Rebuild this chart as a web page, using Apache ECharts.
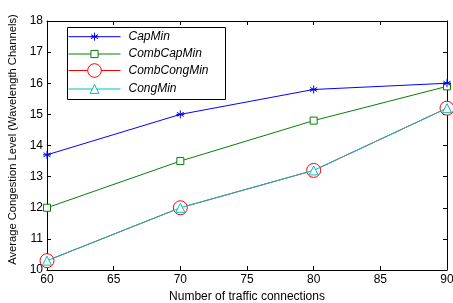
<!DOCTYPE html>
<html>
<head>
<meta charset="utf-8">
<script src="https://cdn.jsdelivr.net/npm/echarts@6/dist/echarts.min.js"></script>
<style>
  html, body { margin: 0; padding: 0; background: #fff; }
  #chart { width: 453px; height: 303px; }
</style>
</head>
<body>
<div id="chart"></div>
<script>
  // data
  const connections = [60, 70, 80, 90];
  const capMin = [13.7, 15.0, 15.8, 16.0];
  const combCapMin = [12.0, 13.5, 14.8, 15.9];
  const combCongMin = [10.3, 12.0, 13.2, 15.2];
  const congMin = [10.3, 12.0, 13.2, 15.2];

  const pairs = (vals) => connections.map((c, i) => [c, vals[i]]);

  const FONT = 'Liberation Sans, Arial, sans-serif';
  const asterisk = 'path://M0,-10L0,10M-8.66,-5L8.66,5M-8.66,5L8.66,-5M-10,0L10,0';

  const mkSeries = (name, vals, color, symbol, size, z) => ({
    name,
    type: 'line',
    data: pairs(vals),
    symbol,
    symbolSize: size,
    z,
    lineStyle: { color, width: 1 },
    itemStyle: { color: symbol.startsWith('path') ? color : '#fff', borderColor: color, borderWidth: 1 },
    emphasis: { disabled: true },
  });

  // one legend per entry so each marker keeps its own size
  const mkLegend = (name, itemHeight, top) => ({
    orient: 'vertical',
    left: 68,
    top,
    z: 6,
    padding: 0,
    itemWidth: 52,
    itemHeight,
    selectedMode: false,
    lineStyle: { width: 1 },
    itemStyle: { borderWidth: 1 },
    textStyle: { fontFamily: FONT, fontSize: 12, lineHeight: 14, fontStyle: 'italic', color: '#000', padding: [0, 0, 0, 3] },
    data: [name],
  });

  const chart = echarts.init(document.getElementById('chart'));

  const tickCommon = {
    axisLine: { show: true, lineStyle: { color: '#000', width: 1 } },
    axisTick: { show: true, inside: true, length: 4, lineStyle: { color: '#000' } },
    splitLine: { show: false },
  };

  chart.setOption({
    animation: false,
    grid: { left: 47, right: 6, top: 21, bottom: 33, containLabel: false, outerBoundsMode: 'none' },
    graphic: [{
      type: 'rect',
      z: 5,
      shape: { x: 67.5, y: 27.5, width: 158, height: 72 },
      style: { fill: '#fff', stroke: '#000', lineWidth: 1 },
    }],
    legend: [
      mkLegend('CapMin', 10, 29.7),
      mkLegend('CombCapMin', 9, 47),
      mkLegend('CombCongMin', 17, 63.2),
      mkLegend('CongMin', 11, 82),
    ],
    xAxis: [
      {
        type: 'value', min: 60, max: 90, interval: 5,
        ...tickCommon,
        axisLabel: { color: '#000', fontFamily: FONT, fontSize: 12, margin: 4 },
        name: 'Number of traffic connections',
        nameLocation: 'middle',
        nameGap: 20,
        nameTextStyle: { color: '#000', fontFamily: FONT, fontSize: 12 },
      },
      {
        type: 'value', min: 60, max: 90, interval: 5, position: 'top',
        ...tickCommon,
        axisLabel: { show: false },
      },
    ],
    yAxis: [
      {
        type: 'value', min: 10, max: 18, interval: 1,
        ...tickCommon,
        axisLabel: { color: '#000', fontFamily: FONT, fontSize: 12, margin: 4 },
        name: 'Average Congestion Level (Wavelength Channels)',
        nameLocation: 'middle',
        nameGap: 22,
        nameTextStyle: { color: '#000', fontFamily: FONT, fontSize: 11.2, padding: [0, 0, 0, 12] },
      },
      {
        type: 'value', min: 10, max: 18, interval: 1, position: 'right',
        ...tickCommon,
        axisLabel: { show: false },
      },
    ],
    series: [
      mkSeries('CapMin', capMin, '#0000ff', asterisk, 8, 4),
      mkSeries('CombCapMin', combCapMin, '#008000', 'rect', 7, 3),
      mkSeries('CombCongMin', combCongMin, '#ff0000', 'circle', 14, 2),
      mkSeries('CongMin', congMin, '#00bfbf', 'triangle', 9, 5),
    ],
  });
</script>
</body>
</html>
